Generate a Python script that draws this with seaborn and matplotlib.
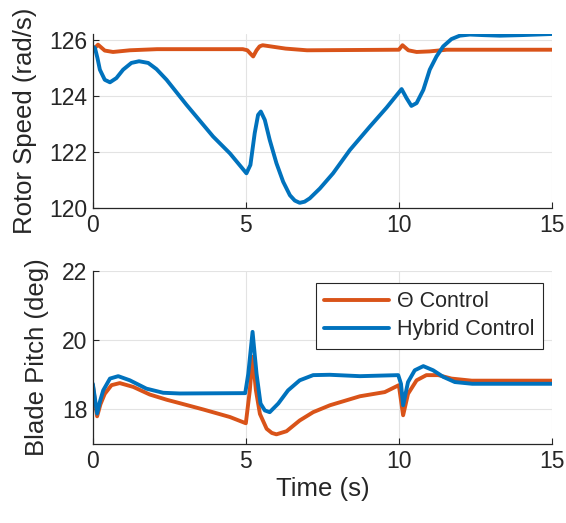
import matplotlib
matplotlib.use("Agg")
import matplotlib.pyplot as plt
import seaborn as sns
import pandas as pd

# ---------------- data ----------------
speed_theta_t = [0.0, 0.04, 0.17, 0.39, 0.66, 1.21, 2.1, 3.5, 4.9, 5.05, 5.15, 5.24, 5.35, 5.45,
                 5.55, 5.8, 6.3, 7.0, 8.5, 10.0, 10.12, 10.31, 10.58, 11.0, 11.56, 15.0]
speed_theta_v = [125.67, 125.67, 125.82, 125.61, 125.56, 125.62, 125.66, 125.66, 125.66, 125.62,
                 125.5, 125.40, 125.62, 125.76, 125.80, 125.76, 125.68, 125.62, 125.63, 125.64,
                 125.80, 125.62, 125.56, 125.58, 125.64, 125.64]

speed_hyb_t = [0.0, 0.07, 0.15, 0.23, 0.39, 0.56, 0.77, 0.99, 1.26, 1.51, 1.81, 2.08, 2.41, 3.06,
               3.93, 4.48, 5.02, 5.15, 5.29, 5.40, 5.49, 5.62, 5.78, 6.0, 6.22, 6.44, 6.6, 6.76,
               6.92, 7.09, 7.42, 7.85, 8.4, 9.05, 9.6, 10.09, 10.25, 10.41, 10.58, 10.8, 11.01,
               11.23, 11.45, 11.72, 11.99, 12.32, 12.76, 13.3, 14.0, 15.0]
speed_hyb_v = [125.75, 125.70, 125.35, 124.93, 124.57, 124.48, 124.63, 124.93, 125.17, 125.23,
               125.17, 124.95, 124.57, 123.68, 122.55, 121.95, 121.24, 121.54, 122.67, 123.32,
               123.44, 123.14, 122.43, 121.6, 120.94, 120.46, 120.27, 120.19, 120.23, 120.35,
               120.70, 121.24, 122.07, 122.90, 123.58, 124.24, 123.92, 123.64, 123.74, 124.21,
               124.93, 125.4, 125.76, 126.02, 126.14, 126.18, 126.16, 126.14, 126.16, 126.2]

pitch_theta_t = [0.0, 0.14, 0.25, 0.39, 0.61, 0.88, 1.32, 1.86, 2.41, 2.84, 3.6, 4.48, 5.0,
                 5.13, 5.22, 5.33, 5.46, 5.68, 5.85, 6.0, 6.33, 6.76, 7.2, 7.75, 8.73, 9.54,
                 10.0, 10.14, 10.3, 10.58, 10.9, 11.29, 11.72, 12.38, 15.0]
pitch_theta_v = [18.7, 17.80, 18.15, 18.45, 18.7, 18.76, 18.65, 18.43, 18.28, 18.18, 18.0,
                 17.78, 17.60, 18.55, 19.52, 18.55, 17.87, 17.44, 17.32, 17.28, 17.37, 17.68,
                 17.92, 18.12, 18.38, 18.5, 18.7, 17.83, 18.45, 18.84, 18.99, 18.99, 18.89,
                 18.83, 18.83]

pitch_hyb_t = [0.0, 0.14, 0.24, 0.34, 0.56, 0.83, 1.21, 1.75, 2.3, 2.84, 4.98, 5.08, 5.22,
               5.35, 5.48, 5.62, 5.78, 6.06, 6.38, 6.76, 7.2, 7.74, 8.73, 9.98, 10.07, 10.14,
               10.3, 10.52, 10.8, 11.12, 11.45, 11.83, 12.4, 15.0]
pitch_hyb_v = [18.74, 17.88, 18.25, 18.55, 18.89, 18.96, 18.84, 18.6, 18.48, 18.46, 18.47,
               19.03, 20.24, 19.03, 18.17, 17.97, 17.92, 18.17, 18.55, 18.84, 18.99, 19.0,
               18.96, 18.99, 18.74, 18.12, 18.79, 19.13, 19.25, 19.13, 18.94, 18.79, 18.74,
               18.74]

labels = ["\u0398 Control", "Hybrid Control"]
x_ticks = [0, 5, 10, 15]
speed_ticks = [120, 122, 124, 126]
pitch_ticks = [18, 20, 22]

ORANGE = "#D95319"
BLUE = "#0072BD"

# ---------------- style ----------------
sns.set_style("whitegrid")
plt.rcParams["font.family"] = ["Liberation Sans", "DejaVu Sans"]
plt.rcParams["axes.edgecolor"] = "#262626"
plt.rcParams["grid.color"] = "#e3e3e3"
plt.rcParams["grid.linewidth"] = 0.8

fig = plt.figure(figsize=(5.66, 5.23), dpi=100)
ax1 = fig.add_axes([0.164, 0.602, 0.811, 0.333])
ax2 = fig.add_axes([0.164, 0.151, 0.811, 0.331])

def frame(df_t, df_v, name):
    return pd.DataFrame({"t": df_t, "v": df_v, "s": name})

sp = pd.concat([frame(speed_theta_t, speed_theta_v, labels[0]),
                frame(speed_hyb_t, speed_hyb_v, labels[1])])
pt = pd.concat([frame(pitch_theta_t, pitch_theta_v, labels[0]),
                frame(pitch_hyb_t, pitch_hyb_v, labels[1])])

pal = {labels[0]: ORANGE, labels[1]: BLUE}
kw = dict(x="t", y="v", hue="s", palette=pal, sort=False, estimator=None, lw=2.8)
sns.lineplot(data=sp, ax=ax1, legend=False, **kw)
sns.lineplot(data=pt, ax=ax2, **kw)
for ax in (ax1, ax2):
    for ln in ax.get_lines():
        ln.set_solid_joinstyle("round")
        ln.set_solid_capstyle("round")

for ax in (ax1, ax2):
    ax.set_xlim(0, 15)
    ax.set_xticks(x_ticks)
    ax.tick_params(direction="in", length=4, width=0.8, labelsize=16.5, colors="#262626",
                   left=True, bottom=True, pad=4)
    for s in ("top", "right"):
        ax.spines[s].set_visible(False)
    for s in ("left", "bottom"):
        ax.spines[s].set_linewidth(0.9)
        ax.spines[s].set_color("#262626")
    ax.set_facecolor("white")

ax1.set_ylim(120, 126.2)
ax1.set_yticks(speed_ticks)
ax1.set_xlabel("")
ax1.set_ylabel("Rotor Speed (rad/s)", fontsize=18.5, color="#262626", labelpad=9)

ax2.set_ylim(17, 22)
ax2.set_yticks(pitch_ticks)
ax2.set_xlabel("Time (s)", fontsize=18.5, color="#262626", labelpad=3)
ax2.set_ylabel("Blade Pitch (deg)", fontsize=18.5, color="#262626", labelpad=9)

leg = ax2.legend(loc="upper right", bbox_to_anchor=(0.980, 0.931), fontsize=15.5,
                 frameon=True, fancybox=False, handlelength=3.0, borderpad=0.4,
                 labelspacing=0.32, handletextpad=0.35, borderaxespad=0)
leg.get_frame().set_edgecolor("#262626")
leg.get_frame().set_linewidth(0.8)
leg.get_frame().set_alpha(1)
for h in leg.get_lines():
    h.set_linewidth(2.8)

fig.savefig("out.png", dpi=100, facecolor="white")
